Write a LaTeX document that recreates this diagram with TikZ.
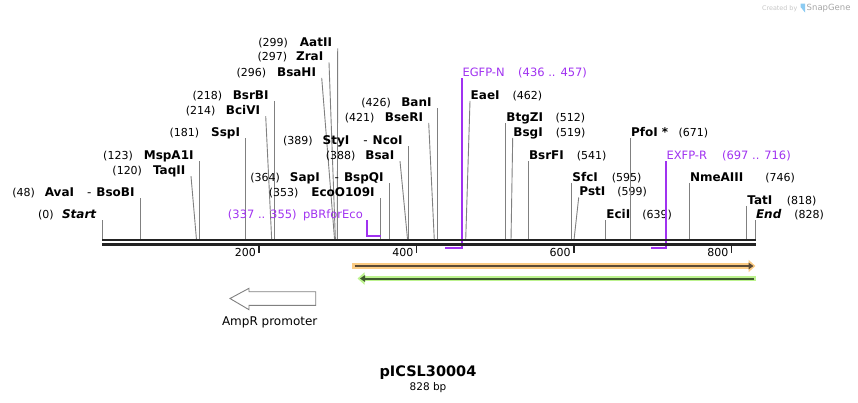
\documentclass[tikz,border=0pt]{standalone}
\usepackage{fontspec}
\setmainfont{DejaVu Sans}
\usetikzlibrary{arrows.meta}
\definecolor{cutgray}{HTML}{808080}
\definecolor{spinecol}{HTML}{232323}
\definecolor{primer}{HTML}{A032F0}
\definecolor{featorange}{HTML}{FBCB83}
\definecolor{orangedark}{HTML}{5A4A36}
\definecolor{featgreen}{HTML}{BDF38F}
\definecolor{greendark}{HTML}{3F5A2E}
\definecolor{snapblue}{HTML}{8CCBF2}
\newcommand{\sitenum}[1]{{\fontsize{11}{13}\selectfont\mdseries(#1)}}

\begin{document}
\begin{tikzpicture}[
x=1pt, y=-1pt,
site/.style={
font=\fontsize{12}{14}\selectfont\bfseries,
text height=8.75pt,
text depth=0pt,
inner ysep=1.6pt
},
lsite/.style={site, anchor=east, inner xsep=5.5pt},
rsite/.style={site, anchor=west, inner xsep=0.5pt},
cut/.style={draw=cutgray, line width=0.9pt},
primertext/.style={
text=primer,
font=\fontsize{11.5}{13}\selectfont,
text height=8.4pt,
text depth=0pt,
inner ysep=1.6pt
},
primerline/.style={draw=primer, line width=1.8pt},
spine/.style={draw=spinecol, line width=2.5pt},
ruler/.style={
font=\fontsize{11}{13}\selectfont,
text height=8pt,
text depth=0pt,
anchor=east,
inner sep=0pt
},
rulermark/.style={draw=spinecol, line width=1.6pt}
]
\useasboundingbox (0,0) rectangle (858,402);

% cut sites, left labels
\node[lsite] (Start) at (102.3,214.3) {\sitenum{0}\hspace{8.5pt}\textit{Start}};
\coordinate (Start-cut) at (102.3,240);
\draw[cut] (Start.south east) -- (Start-cut);

\node[lsite] (AvaI) at (140.3,192.3)
{\sitenum{48}\hspace{10pt}AvaI\hspace{13pt}{\mdseries -}\hspace{5pt}BsoBI};
\coordinate (AvaI-cut) at (140.3,240);
\draw[cut] (AvaI.south east) -- (AvaI-cut);

\node[lsite] (TaqII) at (191,170) {\sitenum{120}\hspace{11pt}TaqII};
\coordinate (TaqII-cut) at (196.5,240);
\draw[cut] (TaqII.south east) -- (TaqII-cut);

\node[lsite] (MspA1I) at (199.3,155) {\sitenum{123}\hspace{11pt}MspA1I};
\coordinate (MspA1I-cut) at (199.3,240);
\draw[cut] (MspA1I.south east) -- (MspA1I-cut);

\node[lsite] (SspI) at (245.7,132.3) {\sitenum{181}\hspace{12pt}SspI};
\coordinate (SspI-cut) at (245.7,240);
\draw[cut] (SspI.south east) -- (SspI-cut);

\node[lsite] (BciVI) at (265.7,110) {\sitenum{214}\hspace{10.5pt}BciVI};
\coordinate (BciVI-cut) at (271.7,240);
\draw[cut] (BciVI.south east) -- (BciVI-cut);

\node[lsite] (BsrBI) at (274.3,94.7) {\sitenum{218}\hspace{10.5pt}BsrBI};
\coordinate (BsrBI-cut) at (274.3,240);
\draw[cut] (BsrBI.south east) -- (BsrBI-cut);

\node[lsite] (BsaHI) at (321.7,71.7) {\sitenum{296}\hspace{11pt}BsaHI};
\coordinate (BsaHI-cut) at (334.6,240);
\draw[cut] (BsaHI.south east) -- (BsaHI-cut);

\node[lsite] (ZraI) at (329,56.3) {\sitenum{297}\hspace{9pt}ZraI};
\coordinate (ZraI-cut) at (335.4,240);
\draw[cut] (ZraI.south east) -- (ZraI-cut);

\node[lsite] (AatII) at (337.7,42.3) {\sitenum{299}\hspace{12pt}AatII};
\coordinate (AatII-cut) at (337.3,240);
\draw[cut] (AatII.south east) -- (AatII-cut);

\node[lsite] (EcoO109I) at (380.3,192.3) {\sitenum{353}\hspace{13pt}EcoO109I};
\coordinate (EcoO109I-cut) at (380.3,240);
\draw[cut] (EcoO109I.south east) -- (EcoO109I-cut);

\node[lsite] (SapI) at (389.3,177.3)
{\sitenum{364}\hspace{10pt}SapI\hspace{15pt}{\mdseries -}\hspace{5pt}BspQI};
\coordinate (SapI-cut) at (389.3,240);
\draw[cut] (SapI.south east) -- (SapI-cut);

\node[lsite] (BsaI) at (400,155) {\sitenum{388}\hspace{10pt}BsaI};
\coordinate (BsaI-cut) at (407.6,240);
\draw[cut] (BsaI.south east) -- (BsaI-cut);

\node[lsite] (StyI) at (408.3,140.3)
{\sitenum{389}\hspace{10pt}StyI\hspace{14pt}{\mdseries -}\hspace{5pt}NcoI};
\coordinate (StyI-cut) at (408.3,240);
\draw[cut] (StyI.south east) -- (StyI-cut);

\node[lsite] (BseRI) at (428.7,116.7) {\sitenum{421}\hspace{10.5pt}BseRI};
\coordinate (BseRI-cut) at (434.3,240);
\draw[cut] (BseRI.south east) -- (BseRI-cut);

\node[lsite] (BanI) at (437.3,102) {\sitenum{426}\hspace{10.5pt}BanI};
\coordinate (BanI-cut) at (437.3,240);
\draw[cut] (BanI.south east) -- (BanI-cut);

% cut sites, right labels
\node[rsite] (EaeI) at (470,94.7) {EaeI\hspace{13pt}\sitenum{462}};
\coordinate (EaeI-cut) at (465.7,240);
\draw[cut] (EaeI.south west) -- (EaeI-cut);

\node[rsite] (BtgZI) at (505.7,117.3) {BtgZI\hspace{12.5pt}\sitenum{512}};
\coordinate (BtgZI-cut) at (505.7,240);
\draw[cut] (BtgZI.south west) -- (BtgZI-cut);

\node[rsite] (BsgI) at (512.7,131.7) {BsgI\hspace{13pt}\sitenum{519}};
\coordinate (BsgI-cut) at (511,240);
\draw[cut] (BsgI.south west) -- (BsgI-cut);

\node[rsite] (BsrFI) at (528.3,155) {BsrFI\hspace{13pt}\sitenum{541}};
\coordinate (BsrFI-cut) at (528.3,240);
\draw[cut] (BsrFI.south west) -- (BsrFI-cut);

\node[rsite] (SfcI) at (571.7,176.7) {SfcI\hspace{14pt}\sitenum{595}};
\coordinate (SfcI-cut) at (571.7,240);
\draw[cut] (SfcI.south west) -- (SfcI-cut);

\node[rsite] (PstI) at (578.7,191.3) {PstI\hspace{12pt}\sitenum{599}};
\coordinate (PstI-cut) at (574,240);
\draw[cut] (PstI.south west) -- (PstI-cut);

\node[rsite] (EciI) at (605.7,214.3) {EciI\hspace{12pt}\sitenum{639}};
\coordinate (EciI-cut) at (605.7,240);
\draw[cut] (EciI.south west) -- (EciI-cut);

\node[rsite] (PfoI) at (630.3,132.3) {PfoI *\hspace{10.5pt}\sitenum{671}};
\coordinate (PfoI-cut) at (630.3,240);
\draw[cut] (PfoI.south west) -- (PfoI-cut);

\node[rsite] (NmeAIII) at (689.3,176.7) {NmeAIII\hspace{22pt}\sitenum{746}};
\coordinate (NmeAIII-cut) at (689.3,240);
\draw[cut] (NmeAIII.south west) -- (NmeAIII-cut);

\node[rsite] (TatI) at (746.7,199.7) {TatI\hspace{14.5pt}\sitenum{818}};
\coordinate (TatI-cut) at (746.7,240);
\draw[cut] (TatI.south west) -- (TatI-cut);

\node[rsite] (End) at (755.3,214.3) {\textit{End}\hspace{13pt}\sitenum{828}};
\coordinate (End-cut) at (755.3,240);
\draw[cut] (End.south west) -- (End-cut);

% primers
\node[primertext, anchor=east, inner xsep=4.3pt] (pBR) at (367.3,214.3)
{(337 .. 355)\hspace{6.5pt}pBRforEco};
\coordinate (pBR-a) at (367.3,236);
\coordinate (pBR-b) at (380.7,236);
\draw[primerline] (pBR.south east) -- (pBR-a) -- (pBR-b);

\node[primertext, anchor=west, inner xsep=0pt] (EGFPN) at (462.3,72)
{EGFP-N\hspace{13.5pt}(436 .. 457)};
\coordinate (EGFPN-a) at (462.3,248.3);
\coordinate (EGFPN-b) at (445,248.3);
\draw[primerline] (EGFPN.south west) -- (EGFPN-a) -- (EGFPN-b);

\node[primertext, anchor=west, inner xsep=0pt] (EXFPR) at (666.3,155)
{EXFP-R\hspace{15pt}(697 .. 716)};
\coordinate (EXFPR-a) at (666.3,248.3);
\coordinate (EXFPR-b) at (651,248.3);
\draw[primerline] (EXFPR.south west) -- (EXFPR-a) -- (EXFPR-b);

% backbone
\coordinate (bb-start) at (102,240);
\coordinate (bb-end) at (756,240);
\draw[spine] (bb-start) -- (bb-end);
\draw[spine] ([yshift=-4.3pt]bb-start) -- ([yshift=-4.3pt]bb-end);

% ruler
\coordinate (m200) at (259,246);
\coordinate (m400) at (416.6,246);
\coordinate (m600) at (573.8,246);
\coordinate (m800) at (731.6,246);
\draw[rulermark] (m200) -- ++(0,7);
\draw[rulermark] (m400) -- ++(0,7);
\draw[rulermark] (m600) -- ++(0,7);
\draw[rulermark] (m800) -- ++(0,7);
\node[ruler] (l200) at (256,252) {200};
\node[ruler] (l400) at (413.6,252) {400};
\node[ruler] (l600) at (570.8,252) {600};
\node[ruler] (l800) at (728.6,252) {800};

% features
\coordinate (or-a) at (352,266);
\coordinate (or-b) at (755.5,266);
\draw[featorange, line width=5.4pt, -{Triangle[length=7pt,width=12pt]}] (or-a) -- (or-b);
\draw[orangedark, line width=2pt, -{Triangle[length=5pt,width=6.5pt]}]
([xshift=2.5pt]or-a) -- ([xshift=-2pt]or-b);

\coordinate (gr-a) at (756,278.5);
\coordinate (gr-b) at (357.5,278.5);
\draw[featgreen, line width=5.4pt, -{Triangle[length=7pt,width=12pt]}] (gr-a) -- (gr-b);
\draw[greendark, line width=2pt, -{Triangle[length=5pt,width=6.5pt]}]
([xshift=-2pt]gr-a) -- ([xshift=2.5pt]gr-b);

% promoter
\draw[cutgray, fill=white, line width=0.9pt]
(230,298.5) -- (249,288.3) -- (249,291.7) -- (315.7,291.7) -- (315.7,305.3)
-- (249,305.3) -- (249,309.7) -- cycle;
\node[font=\fontsize{12}{14}\selectfont, text height=8.75pt, text depth=0pt, inner sep=0pt]
(ampr) at (269.7,321.5) {AmpR promoter};

% title
\node[font=\fontsize{14.5}{17}\selectfont\bfseries, anchor=base, inner sep=0pt]
(title) at (428,376.8) {pICSL30004};
\node[font=\fontsize{10.5}{12}\selectfont, anchor=base, inner sep=0pt]
(bpsize) at (428,390) {828 bp};

% watermark
\node[text=gray!45, font=\fontsize{6.4}{8}\selectfont, anchor=east, inner sep=0pt]
(created) at (797.5,8.3) {Created by};
\fill[snapblue] (800.5,3.5) -- (805,3.5) -- (805,12.5) .. controls (803,10) and (801.5,8) .. (800.5,7) -- cycle;
\node[text=gray!70, font=\fontsize{8.5}{10}\selectfont, anchor=west, inner sep=0pt]
(snapgene) at (806.5,8.3) {SnapGene};

\end{tikzpicture}
\end{document}
